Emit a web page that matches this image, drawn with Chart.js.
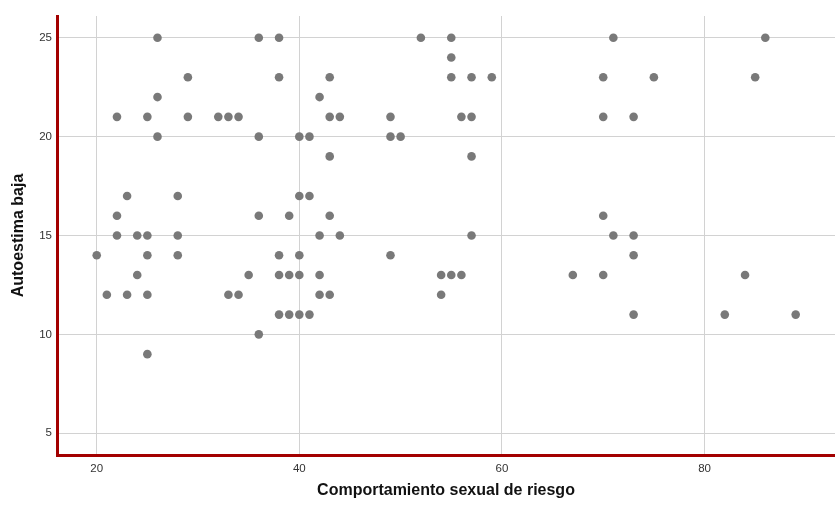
<!DOCTYPE html>
<html>
<head>
<meta charset="utf-8">
<script src="https://cdn.jsdelivr.net/npm/chart.js@4"></script>
<style>
  body { margin: 0; background: #fff; }
  #wrap { width: 835px; height: 506px; }
</style>
</head>
<body>
<div id="wrap"><canvas id="scatterChart" width="835" height="506"></canvas></div>
<script>
// Data (x = Comportamiento sexual de riesgo, y = Autoestima baja)
const xValues = [
    26, 36, 38, 52, 55, 71, 86,
    55,
    29, 38, 43, 55, 57, 59, 70, 75, 85,
    26, 42,
    22, 25, 29, 32, 33, 34, 43, 44, 49, 56, 57, 70, 73,
    26, 36, 40, 41, 49, 50,
    43, 57,
    23, 28, 40, 41,
    22, 36, 39, 43, 70,
    22, 24, 25, 28, 42, 44, 57, 71, 73,
    20, 25, 28, 38, 40, 49, 73,
    24, 35, 38, 39, 40, 42, 54, 55, 56, 67, 70, 84,
    21, 23, 25, 33, 34, 42, 43, 54,
    38, 39, 40, 41, 73, 82, 89,
    36,
    25
];
const yValues = [
    25, 25, 25, 25, 25, 25, 25,
    24,
    23, 23, 23, 23, 23, 23, 23, 23, 23,
    22, 22,
    21, 21, 21, 21, 21, 21, 21, 21, 21, 21, 21, 21, 21,
    20, 20, 20, 20, 20, 20,
    19, 19,
    17, 17, 17, 17,
    16, 16, 16, 16, 16,
    15, 15, 15, 15, 15, 15, 15, 15, 15,
    14, 14, 14, 14, 14, 14, 14,
    13, 13, 13, 13, 13, 13, 13, 13, 13, 13, 13, 13,
    12, 12, 12, 12, 12, 12, 12, 12,
    11, 11, 11, 11, 11, 11, 11,
    10,
    9
];
const xTicks = [20, 40, 60, 80];
const yTicks = [5, 10, 15, 20, 25];

const xTitle = 'Comportamiento sexual de riesgo';
const yTitle = 'Autoestima baja';

document.addEventListener('DOMContentLoaded', () => {
    const ctx = document.getElementById('scatterChart').getContext('2d');
    const points = xValues.map((x, i) => ({ x: x, y: yValues[i] }));

    const axisRed = '#a30000';
    const gridGray = '#d2d2d2';
    const tickFont = { family: 'Liberation Sans, Arial, sans-serif', size: 11.5 };
    const titleFont = { family: 'Liberation Sans, Arial, sans-serif', size: 16, weight: 'bold' };

    new Chart(ctx, {
        type: 'scatter',
        data: {
            datasets: [{
                data: points,
                backgroundColor: '#797979',
                borderColor: '#797979',
                borderWidth: 0,
                pointRadius: 4.3,
                pointHoverRadius: 4.3
            }]
        },
        options: {
            responsive: false,
            animation: false,
            layout: { autoPadding: false, padding: { top: 16, right: 0, left: 0, bottom: 0 } },
            scales: {
                x: {
                    type: 'linear',
                    min: 16.08,
                    max: 92.88,
                    afterBuildTicks: (scale) => { scale.ticks = xTicks.map(v => ({ value: v })); },
                    afterFit: (scale) => { scale.height = 51; },
                    grid: { color: gridGray, drawTicks: false },
                    border: { color: axisRed, width: 3 },
                    ticks: { color: '#333', font: tickFont, padding: 7 },
                    title: { display: true, text: xTitle, color: '#111', font: titleFont, padding: { top: 0, bottom: 6 } }
                },
                y: {
                    type: 'linear',
                    min: 3.9,
                    max: 26.1,
                    afterBuildTicks: (scale) => { scale.ticks = yTicks.map(v => ({ value: v })); },
                    afterFit: (scale) => { scale.width = 57; },
                    grid: { color: gridGray, drawTicks: false },
                    border: { color: axisRed, width: 3 },
                    ticks: { color: '#333', font: tickFont, padding: 5 },
                    title: { display: true, text: yTitle, color: '#111', font: titleFont, padding: { top: 9, bottom: 0 } }
                }
            },
            plugins: {
                legend: { display: false },
                tooltip: { enabled: false }
            }
        }
    });
});
</script>
</body>
</html>
